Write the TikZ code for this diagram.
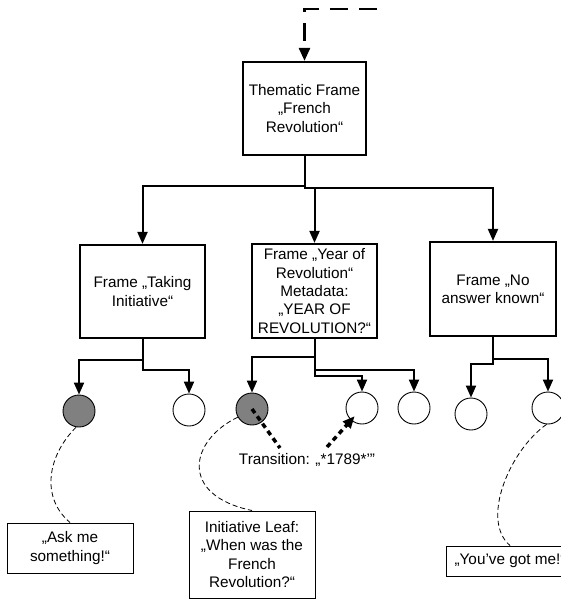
\documentclass[tikz,border=0pt]{standalone}
\usepackage{fontspec}
\setmainfont{Liberation Sans}
\usetikzlibrary{arrows.meta,calc}
\begin{document}
\begin{tikzpicture}[x=1pt,y=-1pt,
  txt/.style={font=\fontsize{15.3}{18.3}\selectfont, align=center},
  frame/.style={txt, draw, line width=2.2pt, inner sep=0pt},
  leaf/.style={txt, draw, line width=1pt, inner sep=0pt},
  state/.style={circle, draw, line width=0.9pt, minimum size=32pt, inner sep=0pt},
  active/.style={state, fill=gray},
  link/.style={line width=2pt, -{Triangle[length=12pt,width=10pt]}},
  entry/.style={line width=2.5pt, dash pattern=on 18pt off 11pt, -{Triangle[length=13pt,width=11pt]}},
  trans/.style={line width=3.5pt, dash pattern=on 5pt off 4pt},
  note/.style={line width=0.8pt, dash pattern=on 5pt off 3pt}]
\useasboundingbox (0,0) rectangle (560,599);
\fill[white] (0,0) rectangle (560,599);

% frames
\node[frame, minimum width=123pt, minimum height=93pt] (them) at (304.5,108.5)
  {Thematic Frame\\„French\\Revolution“};
\node[frame, minimum width=125pt, minimum height=93pt] (take) at (142.5,291.5)
  {Frame „Taking\\Initiative“};
\node[frame, minimum width=125pt, minimum height=94pt] (year) at (314.5,291)
  {Frame „Year of\\Revolution“\\Metadata:\\„YEAR OF\\REVOLUTION?“};
\node[frame, minimum width=126pt, minimum height=94pt] (none) at (493,289)
  {Frame „No\\answer known“};

% states
\node[active] (g1) at (79,411) {};
\node[state]  (w1) at (189,410) {};
\node[active] (g2) at (252,409) {};
\node[state]  (w2) at (362,408) {};
\node[state]  (w3) at (414,408) {};
\node[state]  (w4) at (471,414) {};
\node[state]  (w5) at (548,408) {};

% leaves
\node[leaf, minimum width=126pt, minimum height=50pt] (ask) at (70,548)
  {„Ask me\\something!“};
\node[leaf, minimum width=126pt, minimum height=87pt] (init) at (252,554.5)
  {Initiative Leaf:\\„When was the\\French\\Revolution?“};
\node[leaf, minimum width=128pt, minimum height=30pt] (got) at (510,561)
  {„You’ve got me!“};

\node[txt, inner sep=0pt] (trans) at (307,460) {Transition: „*1789*\char"27\char"22};

% entry into the thematic frame
\coordinate (entry) at (377,9);
\draw[entry] (entry) -| (them.north);

% frame hierarchy
\draw[link] (them.south) -- ++(0,30) -| (take.north);
\draw[link] (them.south) -- ++(0,32) -| (year.north);
\draw[link] (them.south) -- ++(0,32) -| (none.north);

\draw[link] (take.south) -- ++(0,21) -| (g1.north);
\draw[link] (take.south) -- ++(0,31) -| (w1.north);
\draw[link] (year.south) -- ++(0,18) -| (g2.north);
\draw[link] (year.south) -- ++(0,37) -| (w2.north);
\draw[link] (year.south) -- ++(0,31) -| (w3.north);
\draw[link] (none.south) -- ++(0,27) -| (w4.north);
\draw[link] (none.south) -- ++(0,22) -| (w5.north);

% transition
\coordinate (t1) at (280,448);
\coordinate (t2) at (327,447);
\draw[trans] (g2.center) -- (t1);
\draw[trans, -{Triangle[length=12pt,width=10pt]}, shorten >=11pt] (t2) -- (w2.center);

% notes
\draw[note] (g1.-100) .. controls (48,455) and (40,497) .. (ask.north);
\draw[note] (g2.-150) .. controls (190,440) and (178,495) .. (init.north);
\draw[note] (w5.-95) .. controls (510,450) and (480,520) .. (got.north);
\end{tikzpicture}
\end{document}
